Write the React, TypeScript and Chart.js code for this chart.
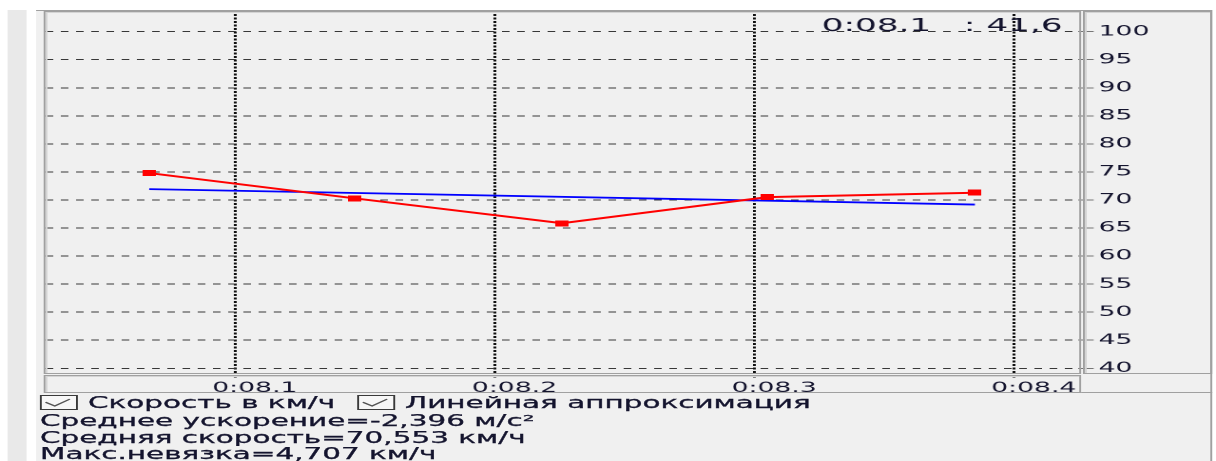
import { useEffect, useRef } from 'react';
import { Chart, registerables } from 'chart.js';

Chart.register(...registerables);

// the source screenshot is stretched sideways, so everything is laid out
// on a narrow canvas and scaled horizontally by SX
const SX = 1.9;

const SPEED_TIMES = [8.067, 8.146, 8.226, 8.305, 8.385];
const SPEED_KMH = [74.8, 70.3, 65.85, 70.5, 71.3];
const APPROX_TIMES = [8.067, 8.385];
const APPROX_KMH = [71.93, 69.18];
const X_TICKS = [8.1, 8.2, 8.3, 8.4];
const Y_TICKS = [40, 45, 50, 55, 60, 65, 70, 75, 80, 85, 90, 95, 100];
const X_RANGE = [8.0271, 8.4249];
const Y_RANGE = [39.34, 103.15];
const CURSOR_TEXT = '0:08.1   : 41,6';
const CHECKS = ['Скорость в км/ч', 'Линейная аппроксимация'];
const STATS = [
  'Среднее ускорение=-2,396 м/с²',
  'Средняя скорость=70,553 км/ч',
  'Макс.невязка=4,707 км/ч',
];

const TEXT = '#14142e';
const FONT = '"DejaVu Sans", Verdana, sans-serif';
const lx = (v: number) => v / SX;

const fmtTime = (v: number) => {
  const m = Math.floor(v / 60);
  return `${m}:${(v - m * 60).toFixed(1).padStart(4, '0')}`;
};

// cursor readout in the top right corner of the plot
const cursorLabel = {
  id: 'cursorLabel',
  afterDatasetsDraw(chart: Chart) {
    const { ctx, chartArea } = chart;
    ctx.save();
    ctx.font = `18px ${FONT}`;
    ctx.fillStyle = TEXT;
    ctx.textAlign = 'right';
    ctx.textBaseline = 'alphabetic';
    ctx.fillText(CURSOR_TEXT, chartArea.right - 8.4, chartArea.top + 17);
    ctx.restore();
  },
};

// drop the label padding chart.js reserves so the plot fills its frame
const noPad = (s: any) => {
  s.paddingTop = 0;
  s.paddingBottom = 0;
  s.paddingLeft = 0;
  s.paddingRight = 0;
};

function Frame({ x0, y0, x1, y1 }: { x0: number; y0: number; x1: number; y1: number }) {
  return (
    <div style={{
      position: 'absolute', left: lx(x0), top: y0, width: lx(x1 - x0), height: y1 - y0,
      boxSizing: 'border-box', border: '1px solid #a0a0a0',
      boxShadow: 'inset 1px 1px 0 #d4d4d4', pointerEvents: 'none',
    }} />
  );
}

function CheckBox({ x, y }: { x: number; y: number }) {
  return (
    <div style={{
      position: 'absolute', left: lx(x), top: y, width: lx(38), height: 15,
      boxSizing: 'border-box', border: '1px solid #3a3a3a', background: '#f7f7f7',
    }}>
      <svg width="100%" height="100%" viewBox="0 0 100 100" preserveAspectRatio="none" style={{ display: 'block' }}>
        <polyline points="11,48 38,76 82,24" fill="none" stroke="#555" strokeWidth="1.2"
          vectorEffect="non-scaling-stroke" />
      </svg>
    </div>
  );
}

function Label({ x, y, text, clip }: { x: number; y: number; text: string; clip?: number }) {
  return (
    <div style={{
      position: 'absolute', left: lx(x), top: y, width: clip ? lx(clip) : undefined,
      overflow: 'hidden', whiteSpace: 'nowrap', font: `15.5px ${FONT}`,
      lineHeight: '15.5px', color: TEXT, WebkitTextStroke: `0.3px ${TEXT}`,
    }}>{text}</div>
  );
}

export default function App() {
  const canvasRef = useRef<HTMLCanvasElement>(null);

  useEffect(() => {
    if (!canvasRef.current) return;
    const marker = document.createElement('canvas');
    marker.width = 7;
    marker.height = 6;
    const mctx = marker.getContext('2d')!;
    mctx.fillStyle = '#ff0000';
    mctx.fillRect(0, 0, 7, 6);

    const tickFont = { family: FONT, size: 14 };
    const chart = new Chart(canvasRef.current, {
      type: 'line',
      data: {
        datasets: [
          {
            label: CHECKS[0],
            data: SPEED_TIMES.map((t, i) => ({ x: t, y: SPEED_KMH[i] })),
            borderColor: '#ff0000',
            borderWidth: 2,
            pointStyle: marker,
            pointRadius: 4,
            tension: 0,
            order: 0,
          },
          {
            label: CHECKS[1],
            data: APPROX_TIMES.map((t, i) => ({ x: t, y: APPROX_KMH[i] })),
            borderColor: '#0000ff',
            borderWidth: 1.8,
            pointRadius: 0,
            tension: 0,
            order: 1,
          },
        ],
      },
      options: {
        animation: false,
        responsive: true,
        maintainAspectRatio: false,
        devicePixelRatio: 2,
        events: [],
        layout: { padding: 0, autoPadding: false },
        plugins: { legend: { display: false }, tooltip: { enabled: false } },
        scales: {
          x: {
            type: 'linear',
            position: 'bottom',
            min: X_RANGE[0],
            max: X_RANGE[1],
            afterBuildTicks: (s: any) => { s.ticks = X_TICKS.map(value => ({ value })); },
            afterFit: (s: any) => { s.height = 21; noPad(s); },
            grid: {
              color: '#111', lineWidth: 1.5, tickLength: 6,
              tickColor: '#111', tickWidth: 1.5, tickBorderDash: [2, 1.5],
            },
            border: { display: false, dash: [2, 1.5] },
            ticks: {
              callback: (v: any) => fmtTime(Number(v)),
              labelOffset: 10.5, padding: 2, maxRotation: 0, autoSkip: false,
              font: tickFont, color: TEXT,
            },
          },
          y: {
            type: 'linear',
            position: 'right',
            min: Y_RANGE[0],
            max: Y_RANGE[1],
            afterBuildTicks: (s: any) => { s.ticks = Y_TICKS.map(value => ({ value })); },
            afterFit: (s: any) => { s.width = lx(1212 - 1078); noPad(s); },
            grid: {
              color: '#383838', lineWidth: 1, tickLength: 8,
              tickColor: '#777', tickBorderDash: [],
            },
            border: { display: false, dash: [4, 4] },
            ticks: {
              callback: (v: any) => String(v),
              padding: 2.6, font: tickFont, color: TEXT,
            },
          },
        },
      },
      plugins: [cursorLabel],
    });
    return () => { chart.destroy(); };
  }, []);

  return (
    <div style={{ position: 'absolute', left: 0, top: 0, width: 1216, height: 461, overflow: 'hidden', background: '#fff' }}>
      <div style={{
        position: 'absolute', left: 0, top: 0, width: lx(1216), height: 461,
        transform: `scaleX(${SX})`, transformOrigin: '0 0',
      }}>
        {/* side strip and panel */}
        <div style={{ position: 'absolute', left: lx(7), top: 10, width: lx(19), height: 451, background: '#e9e9e9' }} />
        <div style={{
          position: 'absolute', left: lx(36), top: 10, width: lx(1213 - 36), height: 451,
          background: '#f0f0f0', borderTop: '1px solid #a0a0a0', borderRight: '1px solid #a0a0a0',
          boxSizing: 'border-box',
        }} />

        <div style={{ position: 'absolute', left: lx(46), top: 14, width: lx(1212 - 46), height: 379 }}>
          <canvas ref={canvasRef} />
        </div>

        <Frame x0={43} y0={11} x1={1081} y1={374} />
        <Frame x0={1083} y0={11} x1={1212} y1={374} />
        <Frame x0={43} y0={375} x1={1081} y1={393} />
        <div style={{ position: 'absolute', left: lx(1081), top: 392, width: lx(1213 - 1081), height: 1, background: '#a0a0a0' }} />

        <CheckBox x={39} y={395} />
        <Label x={88} y={396} text={CHECKS[0]} clip={342 - 88} />
        <CheckBox x={357} y={395} />
        <Label x={405} y={396} text={CHECKS[1]} />
        {STATS.map((s, i) => (
          <Label key={s} x={40} y={414 + i * 16.5} text={s} />
        ))}
      </div>
    </div>
  );
}
